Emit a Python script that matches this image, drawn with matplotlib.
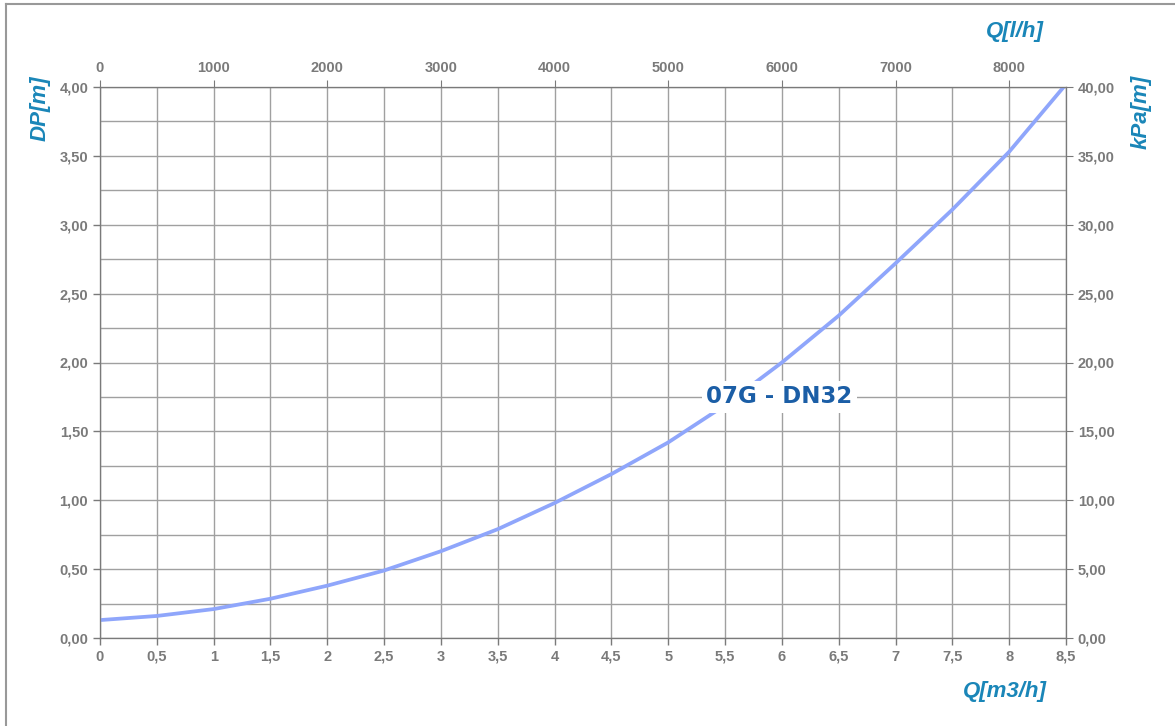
import numpy as np
import matplotlib.pyplot as plt
from matplotlib.ticker import FuncFormatter, MultipleLocator

plt.rcParams['font.family'] = ['Liberation Sans', 'DejaVu Sans']

# Datos
portata = [0, 0.5, 1, 1.5, 2, 2.5, 3, 3.5, 4, 4.5, 5, 5.5, 6, 6.5, 7, 7.5, 8, 8.5]
perdita = [0.13, 0.16, 0.21, 0.285, 0.38, 0.49, 0.63, 0.79, 0.98, 1.19, 1.42, 1.69,
           2.00, 2.34, 2.72, 3.11, 3.53, 4.02]
etichetta = "07G - DN32"

grigio = "#7a7a7a"
azzurro = "#1a86b8"
curva = "#8fa6fb"

fig = plt.figure(figsize=(11.75, 7.26), dpi=100)
ax = fig.add_axes([100 / 1175, 1 - 638 / 726, 966 / 1175, 551 / 726])

ax.plot(portata, perdita, color=curva, lw=2.7, solid_capstyle="round", zorder=3)

ax.set_xlim(0, 8.5)
ax.set_ylim(0, 4)
ax.xaxis.set_major_locator(MultipleLocator(0.5))
ax.yaxis.set_major_locator(MultipleLocator(0.5))
ax.yaxis.set_minor_locator(MultipleLocator(0.25))
ax.grid(True, which="both", color="#a0a0a0", lw=1)
ax.tick_params(which="minor", length=0)
ax.tick_params(colors=grigio, length=5, width=1, labelsize=10.5)
for s in ax.spines.values():
    s.set_color(grigio)

virgola = lambda v, p: f"{v:g}".replace(".", ",")
ax.xaxis.set_major_formatter(FuncFormatter(virgola))
ax.yaxis.set_major_formatter(FuncFormatter(lambda v, p: f"{v:.2f}".replace(".", ",")))
for t in ax.get_xticklabels() + ax.get_yticklabels():
    t.set_fontweight("bold")

# asse destro kPa
ax2 = ax.twinx()
ax2.set_ylim(0, 40)
ax2.yaxis.set_major_locator(MultipleLocator(5))
ax2.yaxis.set_major_formatter(FuncFormatter(lambda v, p: f"{v:.2f}".replace(".", ",")))
ax2.tick_params(colors=grigio, length=5, labelsize=10.5)
for t in ax2.get_yticklabels():
    t.set_fontweight("bold")

# asse superiore l/h
ax3 = ax.twiny()
ax3.set_xlim(0, 8500)
ax3.set_xticks(np.arange(0, 8001, 1000))
ax3.tick_params(colors=grigio, length=5, labelsize=10.5)
for t in ax3.get_xticklabels():
    t.set_fontweight("bold")
for a in (ax2, ax3):
    for s in a.spines.values():
        s.set_color(grigio)

ax.text(5.98, 1.75, etichetta, color="#1b5ea6", fontsize=16.5, fontweight="bold",
        family="DejaVu Sans", ha="center", va="center", zorder=5,
        bbox=dict(facecolor="white", edgecolor="none", pad=3))

font_ax = dict(color=azzurro, fontsize=16, fontweight="bold", style="italic")
fig.text(40 / 1175, 1 - 108 / 726, "DP[m]", rotation=90, ha="center", va="center", **font_ax)
fig.text(1141 / 1175, 1 - 112 / 726, "kPa[m]", rotation=90, ha="center", va="center", **font_ax)
fig.text(1015 / 1175, 1 - 31 / 726, "Q[l/h]", ha="center", va="center", **font_ax)
fig.text(1005 / 1175, 1 - 691 / 726, "Q[m3/h]", ha="center", va="center", **font_ax)

# cornice
fig.add_artist(plt.Line2D([6 / 1175, 6 / 1175], [0, 1 - 4 / 726], color="#999999", lw=1.5))
fig.add_artist(plt.Line2D([6 / 1175, 1], [1 - 4 / 726, 1 - 4 / 726], color="#999999", lw=1.5))

fig.savefig("out.png", dpi=100)
